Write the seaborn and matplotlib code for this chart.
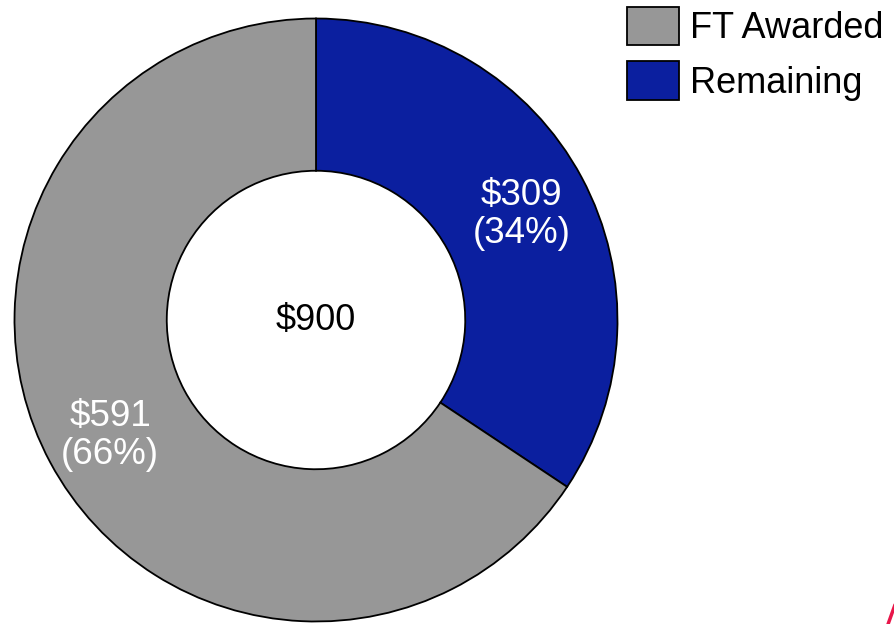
import matplotlib
matplotlib.use("Agg")
import matplotlib.pyplot as plt
import seaborn as sns
import numpy as np
from matplotlib.patches import Patch
from matplotlib.lines import Line2D

# chart data
categories = ["Remaining", "FT Awarded"]
amounts = [309, 591]
legend_order = ["FT Awarded", "Remaining"]
total_label = "$900"

sns.set_theme(style="white")
plt.rcParams['font.family'] = ['Liberation Sans', 'DejaVu Sans']

colors = {"FT Awarded": "#979797", "Remaining": "#0B1F9F"}

fig = plt.figure(figsize=(8.94, 6.24), dpi=100)
# donut centre ~ (316, 320) px, radius ~303 px
cx, cy, r = 316, 320, 303
ax = fig.add_axes([(cx - r) / 894, (624 - cy - r) / 624, 2 * r / 894, 2 * r / 624])

total = sum(amounts)
wedges, _ = ax.pie(amounts, colors=[colors[c] for c in categories],
                   startangle=90, counterclock=False, radius=1,
                   wedgeprops=dict(width=0.505, edgecolor="black", linewidth=1.3))

# labels in the middle of the ring (nudged a little down like the original)
start = 90.0
for val in amounts:
    span = val / total * 360
    mid = np.deg2rad(start - span / 2)
    ax.text(0.775 * np.cos(mid), 0.775 * np.sin(mid) - 0.016,
            "$%d\n(%d%%)" % (val, round(val / total * 100)),
            ha="center", va="center", color="white", fontsize=26.5, linespacing=1.1)
    start -= span

ax.text(0, 0.0, total_label, ha="center", va="center", color="black", fontsize=26)
ax.set_xlim(-1.005, 1.005)
ax.set_ylim(-1.005, 1.005)
ax.set_aspect("equal")
ax.axis("off")

handles = [Patch(facecolor=colors[c], edgecolor="black", linewidth=1.3) for c in legend_order]
leg = fig.legend(handles, legend_order, loc="upper left", bbox_to_anchor=(627 / 894, 1 - 7 / 624),
                 frameon=False, fontsize=26, handlelength=1.44, handleheight=1.25,
                 handletextpad=0.3, labelspacing=0.42, borderpad=0, borderaxespad=0)
for t in leg.get_texts():
    t.set_color("black")

# fragment of a red mark at the bottom-right corner
fig.add_artist(Line2D([887 / 894, 896 / 894], [-0.005, 22 / 624], transform=fig.transFigure,
                      color="#E8174A", linewidth=2.5))

fig.savefig("out.png", dpi=100, facecolor="white")
